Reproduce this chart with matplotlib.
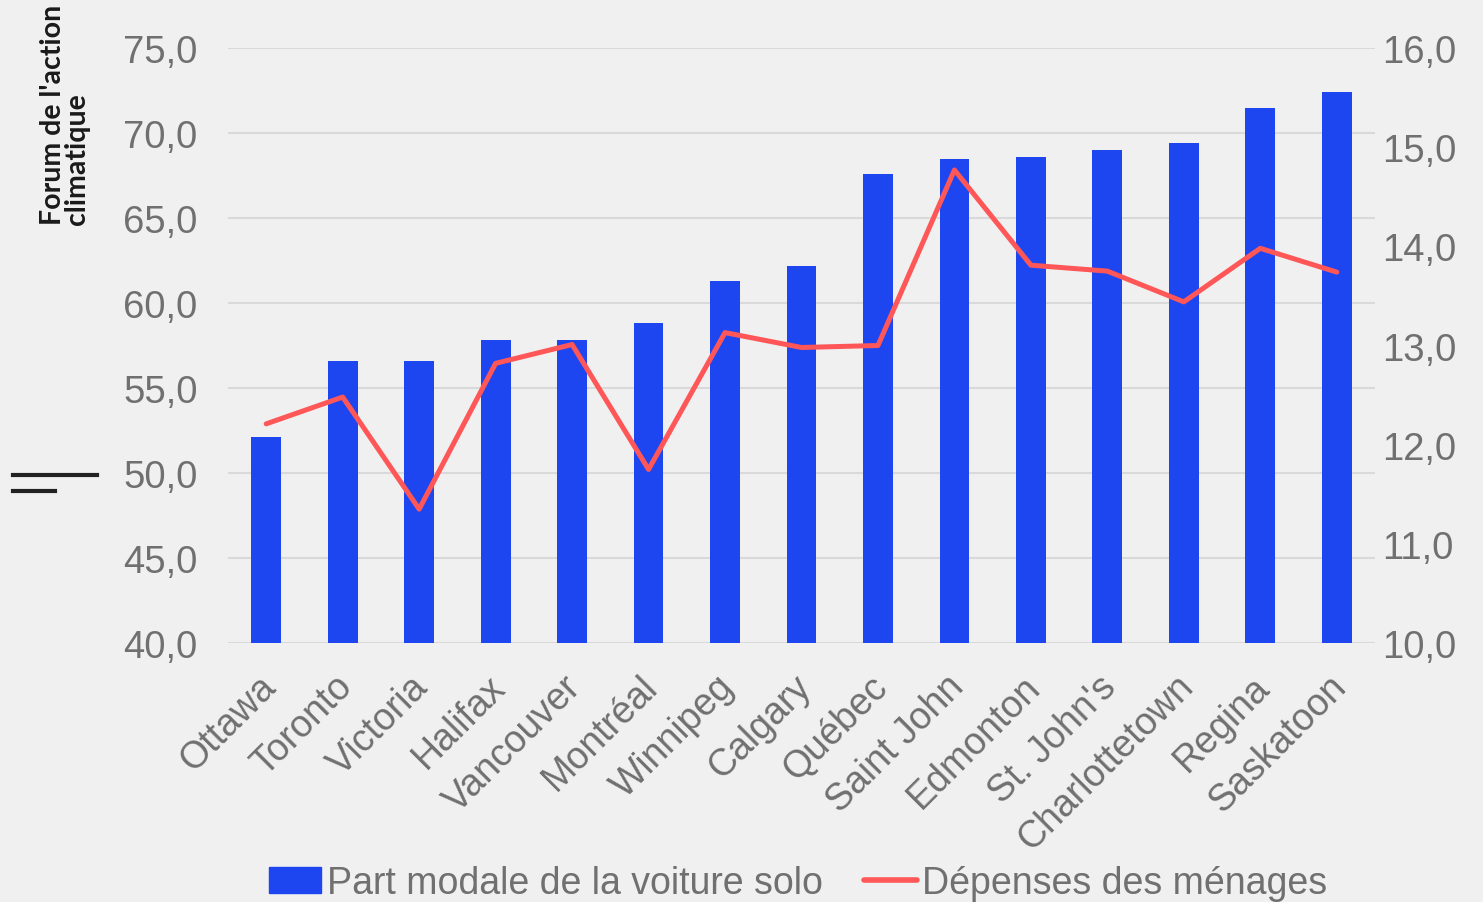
import matplotlib
matplotlib.use("Agg")
import matplotlib.pyplot as plt
import matplotlib.transforms as mtransforms
from matplotlib.lines import Line2D
from matplotlib.ticker import FuncFormatter, MultipleLocator

cities = ["Ottawa", "Toronto", "Victoria", "Halifax", "Vancouver", "Montréal",
          "Winnipeg", "Calgary", "Québec", "Saint John", "Edmonton", "St. John's",
          "Charlottetown", "Regina", "Saskatoon"]
part_modale = [52.1, 56.6, 56.6, 57.8, 57.8, 58.8, 61.3, 62.2, 67.6, 68.5,
               68.6, 69.0, 69.4, 71.5, 72.4]
depenses = [12.21, 12.48, 11.35, 12.82, 13.01, 11.75, 13.13, 12.98, 13.00,
            14.77, 13.81, 13.75, 13.44, 13.98, 13.74]

label_bar = "Part modale de la voiture solo"
label_line = "Dépenses des ménages"

BG = "#f0f0f0"
BAR = "#1d46f0"
LINE = "#ff5757"
TXT = "#707070"
GRID = "#d9d9d9"

plt.rcParams['font.family'] = ['Liberation Sans', 'DejaVu Sans']

fig = plt.figure(figsize=(14.83, 9.03), dpi=100, facecolor=BG)
ax = fig.add_axes([228/1483, 1-644/903, (1375-228)/1483, (644-49)/903])
ax.set_facecolor(BG)
x = list(range(len(cities)))
ax.bar(x, part_modale, width=0.39, color=BAR, zorder=2)
ax.set_ylim(40, 75)
ax.set_xlim(-0.5, len(cities)-0.5)
ax.yaxis.set_major_locator(MultipleLocator(5))
fmt = FuncFormatter(lambda v, p: f"{v:.1f}".replace(".", ","))
ax.yaxis.set_major_formatter(fmt)
ax.grid(axis='y', color=GRID, linewidth=1.5, zorder=0)
ax.set_axisbelow(True)
for s in ax.spines.values():
    s.set_visible(False)
ax.tick_params(axis='both', length=0, labelcolor=TXT)
ax.tick_params(axis='y', pad=22, labelsize=27.5)
ax.set_xticks(x)
ax.set_xticklabels(cities, rotation=45, ha='right', va='top',
                   rotation_mode='anchor', fontsize=27)
ax.tick_params(axis='x', pad=18)
shift = mtransforms.ScaledTranslation(-9/100, 0, fig.dpi_scale_trans)
for lbl in ax.get_xticklabels():
    lbl.set_transform(lbl.get_transform() + shift)

ax2 = ax.twinx()
ax2.plot(x, depenses, color=LINE, linewidth=3.6, solid_joinstyle='round',
         solid_capstyle='round', zorder=3)
ax2.set_ylim(10, 16)
ax2.yaxis.set_major_locator(MultipleLocator(1))
ax2.yaxis.set_major_formatter(fmt)
for s in ax2.spines.values():
    s.set_visible(False)
ax2.tick_params(axis='y', length=0, labelsize=27.5, labelcolor=TXT, pad=5)

handles = [plt.Rectangle((0, 0), 1, 1, color=BAR),
           Line2D([0], [0], color=LINE, linewidth=4, solid_capstyle='round')]
fig.legend(handles, [label_bar, label_line], loc='center', ncol=2,
           bbox_to_anchor=(798/1483, 1-884/903), frameon=False, fontsize=27,
           labelcolor=TXT, handlelength=1.4, handletextpad=0.15, columnspacing=1.1,
           borderaxespad=0)

fig.text(65/1483, 1-225/903, "Forum de l'action\nclimatique", rotation=90,
         ha='center', va='bottom', multialignment='left', fontsize=20.5,
         fontweight='bold', color='#1a1a1a', family=['Lato', 'DejaVu Sans'],
         linespacing=0.92)
fig.add_artist(Line2D([13/1483, 97/1483], [1-476/903, 1-476/903], color='#222222',
                      linewidth=3, transform=fig.transFigure))
fig.add_artist(Line2D([13/1483, 55/1483], [1-492/903, 1-492/903], color='#222222',
                      linewidth=3, transform=fig.transFigure))

fig.savefig("out.png", dpi=100, facecolor=BG)
